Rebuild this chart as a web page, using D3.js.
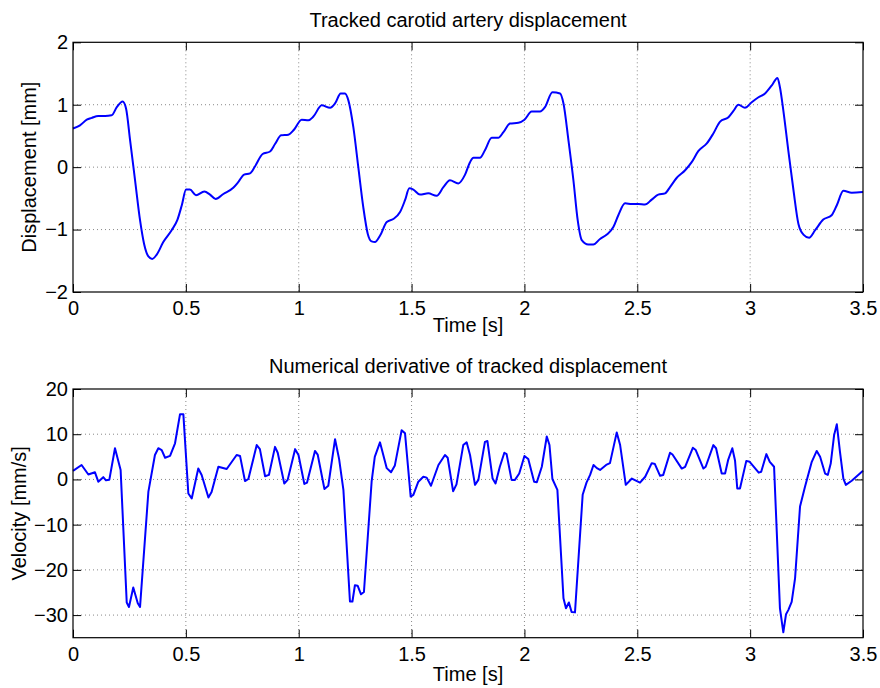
<!DOCTYPE html>
<html lang="en">
<head>
<meta charset="UTF-8">
<script src="https://cdn.jsdelivr.net/npm/d3@7"></script>
<title>Carotid displacement</title>
<style>
    body { margin: 0; background: white; }
    text { font-family: "Liberation Sans", Arial, Helvetica, sans-serif; fill: black; }
    .grid line { stroke: #888; stroke-width: 1; stroke-dasharray: 1,3; }
</style>
</head>
<body>
<div id="fig"></div>
<script>
// ---------- data ----------
const dispTime = [0,0.031,0.061,0.083,0.112,0.142,0.171,0.194,0.220,0.235,0.253,0.275,0.297,0.315,0.334,0.351,0.371,0.400,0.437,0.462,0.482,0.501,0.518,0.545,0.582,0.607,0.632,0.666,0.710,0.732,0.758,0.784,0.806,0.840,0.873,0.895,0.922,0.954,0.979,1.013,1.043,1.065,1.102,1.139,1.161,1.186,1.205,1.220,1.242,1.264,1.286,1.306,1.323,1.338,1.360,1.390,1.419,1.449,1.471,1.490,1.508,1.537,1.574,1.611,1.641,1.670,1.707,1.737,1.759,1.774,1.803,1.825,1.855,1.884,1.907,1.936,1.973,2.000,2.032,2.069,2.091,2.124,2.158,2.173,2.195,2.217,2.236,2.254,2.283,2.305,2.335,2.365,2.394,2.416,2.446,2.475,2.505,2.534,2.564,2.593,2.623,2.645,2.675,2.712,2.741,2.771,2.808,2.837,2.867,2.904,2.926,2.948,2.977,3.007,3.037,3.066,3.096,3.121,3.132,3.147,3.169,3.192,3.214,3.236,3.261,3.288,3.324,3.361,3.384,3.413,3.450,3.5];
const displacement = [0.62,0.67,0.76,0.79,0.82,0.82,0.83,0.96,1.05,0.94,0.43,-0.21,-0.85,-1.23,-1.43,-1.47,-1.40,-1.20,-1.01,-0.85,-0.61,-0.36,-0.36,-0.45,-0.39,-0.44,-0.51,-0.43,-0.33,-0.24,-0.12,-0.10,0.01,0.21,0.25,0.37,0.51,0.52,0.60,0.76,0.75,0.81,0.99,0.95,1.02,1.18,1.18,1.07,0.64,0.00,-0.64,-1.07,-1.19,-1.20,-1.10,-0.88,-0.83,-0.72,-0.53,-0.34,-0.36,-0.44,-0.42,-0.46,-0.32,-0.21,-0.26,-0.12,0.08,0.15,0.15,0.27,0.47,0.47,0.56,0.70,0.71,0.76,0.89,0.89,0.96,1.20,1.18,1.02,0.43,-0.21,-0.85,-1.17,-1.24,-1.24,-1.15,-1.08,-0.96,-0.77,-0.58,-0.59,-0.59,-0.60,-0.52,-0.44,-0.42,-0.32,-0.17,-0.05,0.08,0.26,0.38,0.54,0.73,0.80,0.90,1.00,0.95,1.04,1.12,1.18,1.31,1.43,1.28,0.91,0.27,-0.37,-0.91,-1.08,-1.13,-1.01,-0.84,-0.77,-0.61,-0.38,-0.41,-0.40];

const velTime = [0,0.038,0.068,0.097,0.112,0.134,0.146,0.161,0.186,0.211,0.238,0.248,0.267,0.287,0.297,0.334,0.363,0.378,0.393,0.408,0.430,0.452,0.474,0.489,0.511,0.526,0.555,0.570,0.600,0.614,0.644,0.681,0.725,0.740,0.762,0.777,0.814,0.828,0.851,0.868,0.895,0.907,0.936,0.951,0.984,0.999,1.025,1.037,1.072,1.084,1.114,1.131,1.161,1.179,1.198,1.227,1.238,1.249,1.261,1.276,1.289,1.323,1.337,1.360,1.390,1.409,1.426,1.456,1.471,1.496,1.508,1.530,1.552,1.567,1.586,1.619,1.648,1.660,1.684,1.699,1.729,1.744,1.759,1.781,1.796,1.825,1.836,1.859,1.872,1.891,1.911,1.921,1.943,1.958,1.977,2.000,2.017,2.043,2.055,2.077,2.099,2.111,2.124,2.146,2.173,2.184,2.197,2.209,2.224,2.258,2.275,2.291,2.306,2.321,2.335,2.362,2.379,2.409,2.424,2.449,2.476,2.512,2.535,2.564,2.578,2.601,2.615,2.645,2.656,2.697,2.712,2.746,2.759,2.793,2.803,2.837,2.849,2.874,2.889,2.903,2.921,2.933,2.943,2.955,2.983,2.998,3.038,3.049,3.072,3.087,3.106,3.132,3.147,3.159,3.169,3.184,3.199,3.221,3.243,3.273,3.295,3.310,3.332,3.344,3.357,3.372,3.384,3.398,3.413,3.424,3.450,3.5];
const velocity = [1.9,3.2,1.1,1.6,-0.5,0.5,-0.2,-0.05,6.9,2.1,-27.2,-28.2,-23.9,-27.4,-28.2,-2.7,5.4,6.9,6.5,4.8,5.2,8.0,14.4,14.4,-3.1,-4.2,2.4,1.0,-4.0,-2.8,2.8,2.3,5.4,5.2,-0.35,0.1,7.6,6.7,0.7,1.0,7.2,5.9,-0.9,-0.1,6.7,5.4,-1.0,-0.7,6.3,5.5,-2.1,-1.4,8.9,4.5,-2.3,-27.0,-27.0,-23.4,-23.5,-25.4,-24.9,-0.5,5.0,8.2,2.5,1.6,3.1,10.9,10.2,-3.8,-3.4,-0.5,0.6,0.4,-1.4,3.2,5.4,4.8,-2.6,-1.1,7.6,8.2,5.4,-1.2,-0.1,8.3,8.5,0.2,-0.9,2.8,5.9,5.6,-0.1,-0.1,1.3,5.2,4.5,-0.5,-0.6,2.8,9.5,7.6,0.1,-2.3,-26.3,-28.5,-27.2,-29.3,-29.4,-3.4,-0.7,1.0,3.2,2.5,2.1,3.2,3.6,10.4,7.6,-1.2,0.2,-0.7,0.6,3.6,3.4,0.8,1.0,5.9,5.5,2.4,2.8,7.0,6.5,2.4,2.8,7.6,6.9,1.3,1.3,4.4,6.9,4.2,-2.0,-2.0,4.1,3.9,1.5,1.7,5.6,3.9,2.8,-28.5,-33.8,-29.8,-28.9,-27.1,-21.9,-6.0,-1.6,3.9,6.3,5.0,1.3,1.0,3.5,9.8,12.2,6.1,0.2,-1.2,-0.3,1.9];

const xTicks = [0, 0.5, 1, 1.5, 2, 2.5, 3, 3.5];
const dispTicks = [-2, -1, 0, 1, 2];
const velTicks = [-30, -20, -10, 0, 10, 20];

// ---------- layout ----------
const width = 880, height = 688;
const left = 73, right = 863;
const fontSize = 20;

const svg = d3.select("#fig").append("svg")
    .attr("width", width)
    .attr("height", height);

const fmt = d => d3.format("")(d);

function drawPanel(opts) {
    const x = d3.scaleLinear().domain([0, 3.5]).range([left, right]);
    const y = d3.scaleLinear().domain(opts.yDomain).range([opts.bottom, opts.top]);
    const g = svg.append("g");

    // dotted grid
    const grid = g.append("g").attr("class", "grid");
    grid.selectAll(".gx").data(xTicks.slice(1, -1)).enter().append("line")
        .attr("x1", d => x(d)).attr("x2", d => x(d))
        .attr("y1", opts.top).attr("y2", opts.bottom);
    grid.selectAll(".gy").data(opts.yTicks.filter(v => v > opts.yDomain[0] && v < opts.yDomain[1])).enter().append("line")
        .attr("x1", left).attr("x2", right)
        .attr("y1", d => y(d)).attr("y2", d => y(d));

    // the data line
    const pts = opts.xs.map((t, i) => [t, opts.ys[i]]);
    g.append("path")
        .datum(pts)
        .attr("fill", "none")
        .attr("stroke", "#0000ff")
        .attr("stroke-width", 2)
        .attr("stroke-linejoin", "round")
        .attr("d", d3.line().x(d => x(d[0])).y(d => y(d[1])).curve(opts.curve));

    // axes, ticks pointing inward like matlab
    const tick = 8;
    const axB = g.append("g").attr("transform", `translate(0,${opts.bottom})`)
        .call(d3.axisBottom(x).tickValues(xTicks).tickSize(-tick).tickPadding(9).tickFormat(fmt));
    const axT = g.append("g").attr("transform", `translate(0,${opts.top})`)
        .call(d3.axisTop(x).tickValues(xTicks).tickSize(-tick).tickFormat(""));
    const axL = g.append("g").attr("transform", `translate(${left},0)`)
        .call(d3.axisLeft(y).tickValues(opts.yTicks).tickSize(-tick).tickPadding(5).tickFormat(fmt));
    const axR = g.append("g").attr("transform", `translate(${right},0)`)
        .call(d3.axisRight(y).tickValues(opts.yTicks).tickSize(-tick).tickFormat(""));
    [axB, axT, axL, axR].forEach(a => {
        a.select(".domain").remove();
        a.selectAll("text").style("font-size", fontSize + "px").attr("font-family", null);
        a.selectAll("line").attr("stroke", "black");
    });

    // box
    g.append("rect")
        .attr("x", left).attr("y", opts.top)
        .attr("width", right - left).attr("height", opts.bottom - opts.top)
        .attr("fill", "none").attr("stroke", "black").attr("stroke-width", 1.2);

    // labels
    g.append("text")
        .attr("x", (left + right) / 2).attr("y", opts.titleY)
        .attr("text-anchor", "middle").style("font-size", fontSize + "px")
        .text(opts.title);
    g.append("text")
        .attr("x", (left + right) / 2).attr("y", opts.xLabelY)
        .attr("text-anchor", "middle").style("font-size", fontSize + "px")
        .text("Time [s]");
    g.append("text")
        .attr("transform", `translate(${opts.yLabelX},${(opts.top + opts.bottom) / 2}) rotate(-90)`)
        .attr("text-anchor", "middle").style("font-size", fontSize + "px")
        .text(opts.yLabel);
}

drawPanel({
    top: 42.3, bottom: 292, yDomain: [-2, 2], yTicks: dispTicks,
    xs: dispTime, ys: displacement, curve: d3.curveMonotoneX,
    title: "Tracked carotid artery displacement", titleY: 27,
    xLabelY: 332, yLabel: "Displacement [mm]", yLabelX: 36
});

drawPanel({
    top: 389, bottom: 637.7, yDomain: [-35, 20], yTicks: velTicks,
    xs: velTime, ys: velocity, curve: d3.curveLinear,
    title: "Numerical derivative of tracked displacement", titleY: 373,
    xLabelY: 681, yLabel: "Velocity [mm/s]", yLabelX: 26
});
</script>
</body>
</html>
